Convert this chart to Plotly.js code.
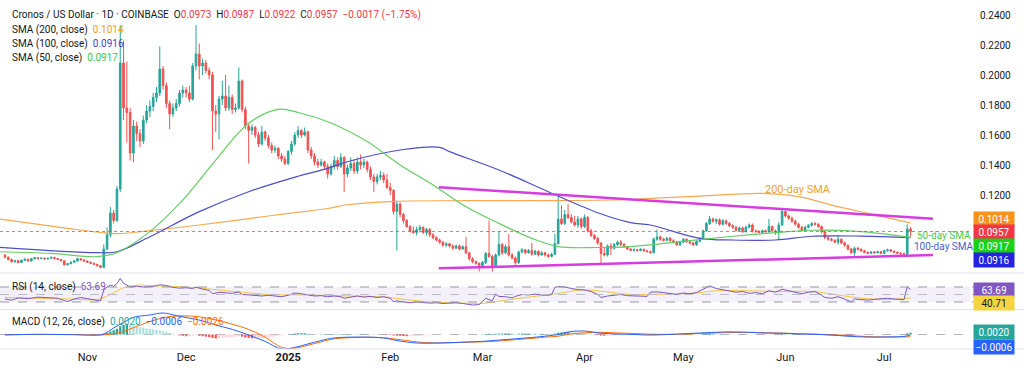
<!DOCTYPE html>
<html><head><meta charset="utf-8">
<script src="https://cdn.plot.ly/plotly-3.0.1.min.js"></script>
<style>html,body{margin:0;padding:0;background:#fff}#chart{width:1024px;height:370px}</style>
</head><body><div id="chart"></div>
<script>
// ---------- DATA ----------
const startDate = '2024-10-07';
const openArr = [0.0800,0.0785,0.0770,0.0755,0.0762,0.0750,0.0765,0.0772,0.0760,0.0775,0.0782,0.0776,0.0779,0.0774,0.0778,0.0784,0.0776,0.0770,0.0762,0.0735,0.0742,0.0752,0.0760,0.0775,0.0768,0.0760,0.0752,0.0745,0.0738,0.0728,
0.0718,0.0840,0.0935,0.1080,0.1030,0.1240,0.2080,0.1780,0.1750,0.1480,0.1660,0.1610,0.1560,0.1700,0.1760,0.1790,0.1850,0.1880,0.2040,0.1930,0.1810,0.1740,0.1780,0.1810,0.1880,0.1900,0.1880,0.1840,0.2060,0.2140,
0.2060,0.2080,0.2030,0.2000,0.1760,0.1740,0.1840,0.1860,0.1780,0.1850,0.1770,0.1780,0.1960,0.1770,0.1660,0.1630,0.1650,0.1600,0.1540,0.1620,0.1580,0.1530,0.1500,0.1510,0.1460,0.1440,0.1410,0.1490,0.1540,0.1600,
0.1630,0.1600,0.1620,0.1500,0.1460,0.1420,0.1400,0.1420,0.1390,0.1340,0.1390,0.1430,0.1390,0.1450,0.1340,0.1380,0.1410,0.1360,0.1420,0.1400,0.1420,0.1370,0.1320,0.1290,0.1320,0.1330,0.1300,0.1250,0.1230,0.1090,
0.1140,0.1070,0.1030,0.0990,0.0960,0.0950,0.0970,0.0985,0.0950,0.0970,0.0935,0.0915,0.0900,0.0885,0.0865,0.0875,0.0860,0.0845,0.0860,0.0840,0.0855,0.0815,0.0775,0.0755,0.0745,0.0730,0.0750,0.0810,0.0790,0.0730,
0.0800,0.0870,0.0815,0.0855,0.0800,0.0780,0.0750,0.0820,0.0835,0.0815,0.0830,0.0805,0.0825,0.0800,0.0815,0.0800,0.0790,0.0805,0.0875,0.1040,0.1010,0.1070,0.1050,0.1020,0.1000,0.1040,0.0990,0.1050,0.0960,0.0930,
0.0910,0.0880,0.0810,0.0800,0.0860,0.0845,0.0870,0.0885,0.0870,0.0855,0.0840,0.0830,0.0835,0.0830,0.0838,0.0828,0.0822,0.0815,0.0905,0.0920,0.0905,0.0898,0.0912,0.0895,0.0885,0.0868,0.0885,0.0905,0.0888,0.0880,
0.0868,0.0890,0.0912,0.0960,0.1010,0.1040,0.1025,0.1035,0.1005,0.1028,0.1010,0.0995,0.0985,0.0965,0.0980,0.0955,0.0985,0.1000,0.0960,0.0958,0.0950,0.0962,0.0955,0.0990,0.0960,0.0955,0.1000,0.1090,0.1060,0.1045,
0.1025,0.1005,0.0985,0.0965,0.0985,0.0998,0.1010,0.1005,0.0990,0.0955,0.0915,0.0905,0.0898,0.0885,0.0905,0.0880,0.0865,0.0840,0.0815,0.0845,0.0838,0.0828,0.0818,0.0812,0.0820,0.0815,0.0822,0.0812,0.0830,0.0835,
0.0825,0.0818,0.0812,0.0808,0.0805,0.0973];
const highArr = [0.0806,0.0790,0.0776,0.0768,0.0766,0.0770,0.0778,0.0776,0.0780,0.0788,0.0786,0.0784,0.0783,0.0783,0.0790,0.0788,0.0780,0.0774,0.0766,0.0748,0.0757,0.0765,0.0782,0.0779,0.0772,0.0764,0.0757,0.0750,0.0742,0.0733,
0.0870,0.0985,0.1120,0.1100,0.1260,0.2330,0.2230,0.2090,0.1780,0.1700,0.1690,0.1640,0.1730,0.1800,0.1830,0.1880,0.1920,0.2190,0.2060,0.1950,0.1830,0.1810,0.1840,0.1900,0.1930,0.1920,0.1930,0.2080,0.2333,0.2210,
0.2110,0.2100,0.2050,0.2020,0.1800,0.1860,0.1960,0.2000,0.1930,0.1870,0.1810,0.2050,0.1970,0.1790,0.1680,0.1670,0.1660,0.1620,0.1660,0.1630,0.1600,0.1550,0.1530,0.1520,0.1480,0.1460,0.1500,0.1560,0.1620,0.1660,
0.1640,0.1650,0.1630,0.1520,0.1480,0.1440,0.1440,0.1430,0.1410,0.1410,0.1460,0.1450,0.1480,0.1460,0.1400,0.1450,0.1440,0.1450,0.1470,0.1440,0.1430,0.1390,0.1340,0.1340,0.1360,0.1350,0.1340,0.1280,0.1240,0.1160,
0.1150,0.1080,0.1040,0.1000,0.0990,0.0990,0.1000,0.0990,0.0980,0.0980,0.0945,0.0925,0.0910,0.0895,0.0885,0.0880,0.0870,0.0870,0.0870,0.0865,0.0920,0.0820,0.0785,0.0765,0.0750,0.0760,0.0820,0.1030,0.0800,0.0810,
0.0960,0.0880,0.0870,0.0940,0.0815,0.0790,0.0830,0.0845,0.0840,0.0840,0.0880,0.0835,0.0830,0.0825,0.0820,0.0810,0.0815,0.0940,0.1200,0.1130,0.1100,0.1140,0.1070,0.1060,0.1060,0.1050,0.1070,0.1060,0.0975,0.0940,
0.0920,0.0885,0.0850,0.0870,0.0880,0.0880,0.0895,0.0900,0.0880,0.0860,0.0845,0.0845,0.0840,0.0845,0.0842,0.0835,0.0830,0.0915,0.0970,0.0930,0.0915,0.0920,0.0920,0.0905,0.0895,0.0895,0.0912,0.0910,0.0900,0.0888,
0.0900,0.0920,0.0970,0.1020,0.1060,0.1050,0.1045,0.1045,0.1040,0.1035,0.1020,0.1005,0.0995,0.0990,0.0990,0.0995,0.1010,0.1010,0.0970,0.0965,0.0970,0.0970,0.1040,0.0995,0.0970,0.1020,0.1100,0.1095,0.1070,0.1055,
0.1035,0.1015,0.0995,0.0995,0.1005,0.1018,0.1020,0.1012,0.0995,0.0960,0.0925,0.0915,0.0905,0.0935,0.0910,0.0890,0.0870,0.0848,0.0855,0.0855,0.0845,0.0835,0.0825,0.0826,0.0826,0.0828,0.0828,0.0835,0.0842,0.0840,
0.0830,0.0824,0.0818,0.0815,0.1005,0.0987];
const lowArr = [0.0780,0.0764,0.0750,0.0750,0.0744,0.0746,0.0760,0.0755,0.0756,0.0770,0.0771,0.0772,0.0769,0.0770,0.0774,0.0771,0.0765,0.0757,0.0728,0.0730,0.0738,0.0748,0.0756,0.0762,0.0755,0.0747,0.0740,0.0733,0.0722,0.0712,
0.0712,0.0830,0.0920,0.1010,0.1020,0.1220,0.1700,0.1550,0.1430,0.1420,0.1560,0.1520,0.1540,0.1680,0.1720,0.1760,0.1820,0.1860,0.1900,0.1780,0.1640,0.1720,0.1760,0.1790,0.1850,0.1850,0.1820,0.1830,0.2030,0.1970,
0.2000,0.2010,0.1970,0.1500,0.1620,0.1570,0.1800,0.1760,0.1760,0.1740,0.1750,0.1770,0.1750,0.1640,0.1410,0.1600,0.1580,0.1520,0.1530,0.1560,0.1510,0.1480,0.1480,0.1440,0.1420,0.1400,0.1400,0.1470,0.1530,0.1580,
0.1580,0.1590,0.1480,0.1440,0.1400,0.1380,0.1390,0.1370,0.1310,0.1330,0.1370,0.1370,0.1380,0.1220,0.1320,0.1360,0.1340,0.1340,0.1370,0.1380,0.1350,0.1300,0.1220,0.1270,0.1300,0.1280,0.1240,0.1200,0.1070,0.0830,
0.1050,0.1010,0.0980,0.0950,0.0940,0.0930,0.0950,0.0940,0.0930,0.0920,0.0905,0.0890,0.0875,0.0855,0.0855,0.0850,0.0835,0.0840,0.0830,0.0835,0.0805,0.0765,0.0745,0.0735,0.0690,0.0720,0.0740,0.0780,0.0690,0.0720,
0.0790,0.0800,0.0805,0.0790,0.0770,0.0735,0.0740,0.0810,0.0805,0.0810,0.0795,0.0800,0.0790,0.0795,0.0790,0.0780,0.0785,0.0800,0.0870,0.1000,0.1000,0.1040,0.1010,0.0990,0.0980,0.0975,0.0980,0.0950,0.0920,0.0900,
0.0870,0.0745,0.0790,0.0790,0.0800,0.0835,0.0860,0.0860,0.0850,0.0835,0.0825,0.0825,0.0822,0.0825,0.0822,0.0818,0.0810,0.0812,0.0895,0.0895,0.0890,0.0890,0.0888,0.0878,0.0860,0.0860,0.0878,0.0880,0.0870,0.0860,
0.0862,0.0885,0.0905,0.0955,0.1000,0.1015,0.1005,0.0995,0.0995,0.1000,0.0985,0.0975,0.0955,0.0958,0.0948,0.0950,0.0978,0.0950,0.0945,0.0945,0.0945,0.0950,0.0950,0.0955,0.0935,0.0900,0.0995,0.1050,0.1035,0.1015,
0.0995,0.0975,0.0955,0.0960,0.0978,0.0990,0.0995,0.0982,0.0945,0.0905,0.0895,0.0890,0.0878,0.0870,0.0872,0.0855,0.0830,0.0808,0.0795,0.0830,0.0820,0.0812,0.0806,0.0806,0.0808,0.0810,0.0805,0.0805,0.0822,0.0820,
0.0812,0.0806,0.0800,0.0798,0.0800,0.0922];
const closeArr = [0.0785,0.0770,0.0755,0.0762,0.0750,0.0765,0.0772,0.0760,0.0775,0.0782,0.0776,0.0779,0.0774,0.0778,0.0784,0.0776,0.0770,0.0762,0.0735,0.0742,0.0752,0.0760,0.0775,0.0768,0.0760,0.0752,0.0745,0.0738,0.0728,0.0718,
0.0840,0.0935,0.1080,0.1030,0.1240,0.2080,0.1780,0.1750,0.1480,0.1660,0.1610,0.1560,0.1700,0.1760,0.1790,0.1850,0.1880,0.2040,0.1930,0.1810,0.1740,0.1780,0.1810,0.1880,0.1900,0.1880,0.1840,0.2060,0.2140,0.2060,
0.2080,0.2030,0.2000,0.1760,0.1740,0.1840,0.1860,0.1780,0.1850,0.1770,0.1780,0.1960,0.1770,0.1660,0.1630,0.1650,0.1600,0.1540,0.1620,0.1580,0.1530,0.1500,0.1510,0.1460,0.1440,0.1410,0.1490,0.1540,0.1600,0.1630,
0.1600,0.1620,0.1500,0.1460,0.1420,0.1400,0.1420,0.1390,0.1340,0.1390,0.1430,0.1390,0.1450,0.1340,0.1380,0.1410,0.1360,0.1420,0.1400,0.1420,0.1370,0.1320,0.1290,0.1320,0.1330,0.1300,0.1250,0.1230,0.1090,0.1140,
0.1070,0.1030,0.0990,0.0960,0.0950,0.0970,0.0985,0.0950,0.0970,0.0935,0.0915,0.0900,0.0885,0.0865,0.0875,0.0860,0.0845,0.0860,0.0840,0.0855,0.0815,0.0775,0.0755,0.0745,0.0730,0.0750,0.0810,0.0790,0.0730,0.0800,
0.0870,0.0815,0.0855,0.0800,0.0780,0.0750,0.0820,0.0835,0.0815,0.0830,0.0805,0.0825,0.0800,0.0815,0.0800,0.0790,0.0805,0.0875,0.1040,0.1010,0.1070,0.1050,0.1020,0.1000,0.1040,0.0990,0.1050,0.0960,0.0930,0.0910,
0.0880,0.0810,0.0800,0.0860,0.0845,0.0870,0.0885,0.0870,0.0855,0.0840,0.0830,0.0835,0.0830,0.0838,0.0828,0.0822,0.0815,0.0905,0.0920,0.0905,0.0898,0.0912,0.0895,0.0885,0.0868,0.0885,0.0905,0.0888,0.0880,0.0868,
0.0890,0.0912,0.0960,0.1010,0.1040,0.1025,0.1035,0.1005,0.1028,0.1010,0.0995,0.0985,0.0965,0.0980,0.0955,0.0985,0.1000,0.0960,0.0958,0.0950,0.0962,0.0955,0.0990,0.0960,0.0955,0.1000,0.1090,0.1060,0.1045,0.1025,
0.1005,0.0985,0.0965,0.0985,0.0998,0.1010,0.1005,0.0990,0.0955,0.0915,0.0905,0.0898,0.0885,0.0905,0.0880,0.0865,0.0840,0.0815,0.0845,0.0838,0.0828,0.0818,0.0812,0.0820,0.0815,0.0822,0.0812,0.0830,0.0835,0.0825,
0.0818,0.0812,0.0808,0.0805,0.0973,0.0957];

// Moving averages (sampled along the drawn lines)
const sma200Dates = ['2024-10-05','2024-10-15','2024-10-26','2024-11-05','2024-11-10','2024-11-20','2024-12-05','2024-12-26','2025-01-04','2025-01-13','2025-01-19','2025-02-02','2025-02-24','2025-03-24','2025-04-15','2025-04-21','2025-05-06','2025-05-25','2025-06-05','2025-06-15','2025-06-26','2025-07-09'];
const sma200Vals  = [0.1040,0.1011,0.0978,0.0950,0.0942,0.0962,0.1000,0.1060,0.1085,0.1110,0.1135,0.1158,0.1162,0.1163,0.1170,0.1178,0.1193,0.1211,0.1189,0.1133,0.1078,0.1014];
const sma100Dates = ['2024-10-05','2024-11-04','2024-11-10','2024-11-20','2024-12-05','2024-12-20','2025-01-04','2025-01-13','2025-01-19','2025-02-04','2025-02-16','2025-02-19','2025-03-06','2025-03-21','2025-04-05','2025-04-15','2025-04-21','2025-05-06','2025-05-16','2025-05-29','2025-06-09','2025-06-24','2025-07-09'];
const sma100Vals  = [0.0852,0.0816,0.0822,0.0922,0.1089,0.1222,0.1325,0.1378,0.1422,0.1500,0.1518,0.1489,0.1367,0.1222,0.1082,0.1016,0.1000,0.0911,0.0900,0.0900,0.0925,0.0926,0.0916];
const sma50Dates  = ['2024-10-05','2024-10-21','2024-11-04','2024-11-10','2024-11-20','2024-11-30','2024-12-10','2024-12-20','2024-12-29','2025-01-04','2025-01-14','2025-01-25','2025-02-04','2025-02-14','2025-02-24','2025-03-06','2025-03-16','2025-03-24','2025-04-05','2025-04-15','2025-04-30','2025-05-16','2025-05-29','2025-06-09','2025-06-24','2025-07-09'];
const sma50Vals   = [0.0822,0.0811,0.0789,0.0816,0.0956,0.1167,0.1433,0.1678,0.1771,0.1750,0.1680,0.1556,0.1400,0.1267,0.1122,0.1011,0.0911,0.0856,0.0850,0.0856,0.0889,0.0925,0.0949,0.0965,0.0956,0.0917];

// Drawn trendlines (triangle)
const trendDates = ['2025-02-15 18:00','2025-07-15 20:00'];
const upperTrend = [0.1252,0.1042];
const lowerTrend = [0.0711,0.0800];

// RSI (14) and its moving average, sampled by candle index
const rsiIdx = [0,2,4,7,10,13,16,18,19,21,23,25,27,29,30,31,32,33,34,35,36,37,38,40,42,44,46,47,49,51,53,55,57,58,60,62,63,65,67,69,71,72,74,76,78,80,82,84,86,88,90,92,94,96,98,100,102,103,105,107,109,111,113,115,117,118,119,121,123,125,127,129,131,133,135,137,139,140,142,144,146,147,148,149,150,152,154,155,157,159,161,163,165,166,167,168,170,172,174,176,178,180,181,183,185,187,189,191,193,195,196,198,200,202,204,206,208,210,212,214,216,218,220,222,224,226,228,230,232,234,236,238,240,242,244,246,248,249,251,253,255,256,257,258,260,262,264,266,268,270,272,273,274,275];
const rsiVal = [38,35,41,39,43,42,40,34,31,38,42,39,36,33,62,70,75,72,79,93,80,76,70,72,70,71,73,76,74,69,67,68,66,70,64,61,52,56,54,53,57,50,49,47,46,48,47,44,48,54,52,49,46,47,44,46,44,40,44,46,43,45,42,44,40,31,33,30,28,30,29,27,28,26,27,28,26,24,22,23,40,36,34,51,45,44,41,45,50,49,51,49,48,50,69,71,70,66,63,62,58,50,42,46,49,50,47,46,47,45,56,57,55,53,50,54,52,55,64,73,66,62,60,56,58,53,55,52,60,56,64,60,56,52,56,58,48,42,40,44,38,33,30,38,36,35,37,38,40,38,37,36,70,63.69];
const rsiMaIdx = [0,10,20,28,32,36,40,45,50,58,65,72,80,90,100,110,116,122,130,140,146,152,160,168,175,182,190,200,210,216,225,235,245,252,260,268,275];
const rsiMaVal = [42,40,38,37,50,68,75,73,72,68,62,56,50,49,47,45,43,36,30,27,27,35,44,53,62,58,50,51,54,60,60,58,58,50,40,37,40.71];

// MACD (12, 26): macd line, signal line (sampled) and daily histogram
const macdIdx = [0,10,20,28,30,33,36,39,44,48,52,56,60,64,69,74,79,84,88,92,96,100,108,115,119,125,130,135,140,145,150,155,160,165,168,171,176,181,186,191,196,204,211,219,226,231,236,241,246,251,256,262,268,273,275];
const macdVal = [-0.0004,0.0002,-0.0002,-0.0006,0.0005,0.0076,0.0140,0.0200,0.0227,0.0250,0.0220,0.0190,0.0160,0.0110,0.0060,-0.0006,-0.0080,-0.0169,-0.0150,-0.0110,-0.0070,-0.0040,-0.0030,-0.0040,-0.0070,-0.0099,-0.0100,-0.0095,-0.0088,-0.0080,-0.0065,-0.0050,-0.0035,-0.0015,0.0000,0.0030,0.0040,0.0015,0.0006,0.0000,-0.0006,0.0005,0.0017,0.0030,0.0025,0.0017,0.0015,0.0006,0.0002,-0.0006,-0.0020,-0.0030,-0.0028,-0.0022,-0.0006];
const signalIdx = [0,10,20,30,33,36,39,44,48,52,56,60,64,69,74,79,84,88,92,96,100,108,115,119,125,130,135,140,145,150,155,160,165,168,171,176,181,186,191,196,204,211,219,226,231,236,241,246,251,256,262,268,273,275];
const signalVal = [-0.0004,0.0001,0.0000,-0.0004,0.0010,0.0035,0.0080,0.0150,0.0195,0.0215,0.0215,0.0200,0.0170,0.0120,0.0060,-0.0030,-0.0150,-0.0160,-0.0125,-0.0085,-0.0050,-0.0033,-0.0038,-0.0055,-0.0085,-0.0098,-0.0097,-0.0090,-0.0085,-0.0076,-0.0060,-0.0045,-0.0028,-0.0020,0.0002,0.0020,0.0025,0.0018,0.0012,0.0004,0.0002,0.0012,0.0022,0.0025,0.0020,0.0016,0.0010,0.0004,-0.0002,-0.0012,-0.0024,-0.0030,-0.0028,-0.0026];
const histVal = [0.0001,-0.0001,-0.0002,-0.0001,-0.0002,0.0000,0.0001,0.0000,0.0001,0.0002,0.0001,0.0001,0.0000,0.0001,0.0001,0.0000,-0.0001,-0.0001,-0.0003,-0.0003,-0.0002,-0.0001,0.0001,0.0001,0.0000,-0.0001,-0.0001,-0.0002,-0.0002,-0.0003,
0.0010,0.0020,0.0035,0.0050,0.0065,0.0095,0.0110,0.0120,0.0110,0.0100,0.0090,0.0085,0.0080,0.0070,0.0065,0.0060,0.0055,0.0050,0.0040,0.0030,0.0020,0.0010,0.0000,-0.0010,-0.0015,-0.0020,-0.0020,-0.0015,-0.0010,-0.0015,
-0.0020,-0.0025,-0.0030,-0.0040,-0.0045,-0.0040,-0.0035,-0.0035,-0.0030,-0.0030,-0.0025,-0.0020,-0.0025,-0.0035,-0.0040,-0.0045,-0.0045,-0.0045,-0.0040,-0.0035,-0.0030,-0.0025,-0.0020,-0.0015,-0.0010,-0.0005,0.0000,0.0005,0.0010,0.0015,
0.0015,0.0015,0.0010,0.0008,0.0006,0.0005,0.0005,0.0004,0.0002,0.0003,0.0004,0.0004,0.0005,0.0002,0.0002,0.0003,0.0002,0.0003,0.0003,0.0003,0.0002,0.0000,-0.0002,-0.0002,-0.0001,-0.0002,-0.0004,-0.0006,-0.0012,-0.0014,
-0.0016,-0.0018,-0.0019,-0.0019,-0.0018,-0.0016,-0.0014,-0.0012,-0.0010,-0.0008,-0.0006,-0.0005,-0.0004,-0.0003,-0.0002,-0.0001,0.0000,0.0001,0.0001,0.0002,0.0001,0.0000,0.0000,0.0001,0.0001,0.0003,0.0006,0.0008,0.0006,0.0008,
0.0011,0.0011,0.0012,0.0012,0.0010,0.0008,0.0009,0.0010,0.0010,0.0010,0.0009,0.0009,0.0008,0.0008,0.0007,0.0006,0.0006,0.0010,0.0020,0.0024,0.0026,0.0027,0.0025,0.0023,0.0022,0.0018,0.0016,0.0010,0.0005,0.0000,
-0.0005,-0.0012,-0.0015,-0.0014,-0.0013,-0.0011,-0.0009,-0.0008,-0.0007,-0.0007,-0.0007,-0.0006,-0.0005,-0.0004,-0.0004,-0.0004,-0.0004,0.0000,0.0003,0.0004,0.0004,0.0004,0.0003,0.0002,0.0001,0.0001,0.0002,0.0001,0.0001,0.0000,
0.0001,0.0002,0.0004,0.0007,0.0009,0.0009,0.0008,0.0007,0.0006,0.0005,0.0004,0.0002,0.0000,0.0000,-0.0001,0.0000,0.0001,0.0000,-0.0001,-0.0002,-0.0002,-0.0002,0.0000,-0.0001,-0.0002,0.0000,0.0004,0.0005,0.0004,0.0003,
0.0001,0.0000,-0.0002,-0.0002,-0.0002,-0.0001,-0.0001,-0.0002,-0.0004,-0.0007,-0.0009,-0.0010,-0.0010,-0.0009,-0.0009,-0.0010,-0.0011,-0.0012,-0.0010,-0.0009,-0.0008,-0.0007,-0.0005,-0.0004,-0.0003,-0.0002,-0.0001,0.0000,0.0001,0.0001,
0.0001,0.0002,0.0002,0.0002,0.0014,0.0020];

// Axis ticks / labels
const priceTicks = [0.12,0.14,0.16,0.18,0.20,0.22,0.24];
const monthTicks = ['2024-11-01','2024-12-01','2025-01-01','2025-02-01','2025-03-01','2025-04-01','2025-05-01','2025-06-01','2025-07-01'];
const monthLabels = ['Nov','Dec','<b>2025</b>','Feb','Mar','Apr','May','Jun','Jul'];
const xRange = ['2024-10-05 11:30','2025-07-27 01:30'];
const lastValues = {sma200:0.1014, sma100:0.0916, sma50:0.0917, rsi:63.69, rsiMa:40.71, hist:0.0020, macd:-0.0006, signal:-0.0026};
const ohlcLegend = {o:'0.0973', h:'0.0987', l:'0.0922', c:'0.0957', chg:'−0.0017 (−1.75%)'};

// ---------- BUILD ----------
const dates = closeArr.map((_, i) => {
  const d = new Date(startDate + 'T00:00:00Z'); d.setUTCDate(d.getUTCDate() + i);
  return d.toISOString().slice(0, 10);
});
const idxToDate = a => a.map(i => dates[i]);
const histColors = histVal.map((v, i) => {
  const p = i > 0 ? histVal[i - 1] : 0;
  if (v >= 0) return v >= p ? '#26a69a' : '#b2dfdb';
  return v < p ? '#ff5252' : '#ffcdd2';
});

const C = {up:'#26a69a', down:'#ef5350', s200:'#f6a94e', s100:'#4b4fc8', s50:'#66cc66', pink:'#d63ce0',
  rsi:'#7e57c2', rsiMa:'#f2c744', macd:'#2962ff', sig:'#ff6d00', text:'#131722', red:'#f23645'};

const traces = [
  {type:'scatter', mode:'lines', x:sma200Dates, y:sma200Vals, line:{color:C.s200, width:1.2, shape:'spline'}, hoverinfo:'skip'},
  {type:'scatter', mode:'lines', x:sma100Dates, y:sma100Vals, line:{color:C.s100, width:1.2, shape:'spline'}, hoverinfo:'skip'},
  {type:'scatter', mode:'lines', x:sma50Dates, y:sma50Vals, line:{color:C.s50, width:1.2, shape:'spline'}, hoverinfo:'skip'},
  {type:'candlestick', x:dates, open:openArr, high:highArr, low:lowArr, close:closeArr,
   increasing:{line:{color:C.up, width:1}, fillcolor:C.up},
   decreasing:{line:{color:C.down, width:1}, fillcolor:C.down}, whiskerwidth:0, hoverinfo:'skip'},
  {type:'scatter', mode:'lines', x:trendDates, y:upperTrend, line:{color:C.pink, width:2.5}, hoverinfo:'skip'},
  {type:'scatter', mode:'lines', x:trendDates, y:lowerTrend, line:{color:C.pink, width:2.5}, hoverinfo:'skip'},
  // RSI pane
  {type:'scatter', mode:'lines', x:idxToDate(rsiMaIdx), y:rsiMaVal, xaxis:'x', yaxis:'y2', line:{color:C.rsiMa, width:1, shape:'spline'}, hoverinfo:'skip'},
  {type:'scatter', mode:'lines', x:idxToDate(rsiIdx), y:rsiVal, xaxis:'x', yaxis:'y2', line:{color:C.rsi, width:1}, hoverinfo:'skip'},
  // MACD pane
  {type:'bar', x:dates, y:histVal, xaxis:'x', yaxis:'y3', marker:{color:histColors}, hoverinfo:'skip'},
  {type:'scatter', mode:'lines', x:idxToDate(signalIdx), y:signalVal, xaxis:'x', yaxis:'y3', line:{color:C.sig, width:1, shape:'spline'}, hoverinfo:'skip'},
  {type:'scatter', mode:'lines', x:idxToDate(macdIdx), y:macdVal, xaxis:'x', yaxis:'y3', line:{color:C.macd, width:1, shape:'spline'}, hoverinfo:'skip'}
];

// pixel helpers for text placement (plot area: 970 x 349)
const PW = 970, PH = 349;
const px = x => x / PW, py = y => (PH - y) / PH;
const lastClose = closeArr[closeArr.length - 1];
const sp = (c, t) => `<span style="color:${c}">${t}</span>`;

const annotations = [
  {x:px(10), y:py(15), text:`Cronos / US Dollar · 1D · COINBASE  O${sp(C.red,ohlcLegend.o)}  H${sp(C.red,ohlcLegend.h)}  L${sp(C.red,ohlcLegend.l)}  C${sp(C.red,ohlcLegend.c)}  ${sp(C.red,ohlcLegend.chg)}`},
  {x:px(10), y:py(30), text:`SMA (200, close)  ${sp('#f0a020', lastValues.sma200.toFixed(4))}`},
  {x:px(10), y:py(44), text:`SMA (100, close)  ${sp('#3f3fc8', lastValues.sma100.toFixed(4))}`},
  {x:px(10), y:py(58), text:`SMA (50, close)  ${sp('#3cc43c', lastValues.sma50.toFixed(4))}`},
  {x:px(10), y:py(287), text:`RSI (14, close)  ${sp(C.rsi, lastValues.rsi.toFixed(2))}`},
  {x:px(10), y:py(322), text:`MACD (12, 26, close)  ${sp('#26a69a', lastValues.hist.toFixed(4))}  ${sp(C.macd, '−' + Math.abs(lastValues.macd).toFixed(4))}  ${sp(C.sig, '−' + Math.abs(lastValues.signal).toFixed(4))}`},
  {x:px(763), y:py(189), text:'200-day SMA', font:{size:11, color:'#f0a030'}},
  {x:px(915), y:py(235), text:'50-day SMA', font:{size:10, color:'#4cc94c'}},
  {x:px(912), y:py(247), text:'100-day SMA', font:{size:10, color:'#4a5fc8'}}
].map(a => Object.assign({xref:'paper', yref:'paper', xanchor:'left', yanchor:'middle', showarrow:false, font:{size:10, color:C.text}}, a));

const box = (val, txt, yref, bg, shift, fc) => ({xref:'paper', x:px(973), xanchor:'left', yref:yref, y:val, yanchor:'middle', yshift:shift,
  text:txt, showarrow:false, bgcolor:bg, width:38, height:12, borderpad:1, align:'center', font:{size:10, color:fc || '#ffffff'}});
annotations.push(
  box(lastValues.sma200, lastValues.sma200.toFixed(4), 'y', '#f7931a', 4),
  box(lastClose, lastClose.toFixed(4), 'y', '#f23645', -1),
  box(lastValues.sma50, lastValues.sma50.toFixed(4), 'y', '#19d119', -9),
  box(lastValues.sma100, lastValues.sma100.toFixed(4), 'y', '#2424e0', -22),
  box(lastValues.rsi, lastValues.rsi.toFixed(2), 'y2', '#7e57c2', -1),
  box(lastValues.rsiMa, lastValues.rsiMa.toFixed(2), 'y2', '#f5d442', -5, '#131722'),
  box(lastValues.hist, lastValues.hist.toFixed(4), 'y3', '#26a69a', 1),
  box(lastValues.macd, '−' + Math.abs(lastValues.macd).toFixed(4), 'y3', '#2962ff', -12)
);

const shapes = [
  {type:'line', xref:'paper', x0:0, x1:1, yref:'y', y0:lastClose, y1:lastClose, line:{color:'rgba(242,54,69,0.75)', width:1, dash:'dot'}},
  {type:'rect', xref:'paper', x0:0, x1:1, yref:'y2', y0:30, y1:70, fillcolor:'rgba(126,87,194,0.09)', line:{width:0}, layer:'below'},
  {type:'line', xref:'paper', x0:0, x1:1.005, yref:'y2', y0:70, y1:70, line:{color:'#9598a1', width:1, dash:'dash'}},
  {type:'line', xref:'paper', x0:0, x1:1.005, yref:'y2', y0:50, y1:50, line:{color:'#b8bbc2', width:1, dash:'dash'}},
  {type:'line', xref:'paper', x0:0, x1:1.005, yref:'y2', y0:30, y1:30, line:{color:'#9598a1', width:1, dash:'dash'}},
  {type:'line', xref:'paper', x0:0, x1:1, yref:'y3', y0:0, y1:0, line:{color:'#b2b5be', width:1, dash:'dash'}, layer:'below'},
  {type:'line', xref:'paper', x0:0, x1:1024/PW, yref:'paper', y0:py(273), y1:py(273), line:{color:'#e0e3eb', width:1}},
  {type:'line', xref:'paper', x0:0, x1:1024/PW, yref:'paper', y0:py(309.5), y1:py(309.5), line:{color:'#e0e3eb', width:1}},
  {type:'line', xref:'paper', x0:0, x1:1024/PW, yref:'paper', y0:py(349), y1:py(349), line:{color:'#e0e3eb', width:1}}
];

const layout = {
  width:1024, height:370, margin:{l:0, r:54, t:0, b:21},
  paper_bgcolor:'#ffffff', plot_bgcolor:'#ffffff', showlegend:false, bargap:0.3,
  font:{family:'Roboto, "Open Sans", sans-serif', size:10, color:C.text},
  xaxis:{type:'date', range:xRange, anchor:'y3', showgrid:false, zeroline:false, showline:false, ticks:'',
    tickvals:monthTicks, ticktext:monthLabels, tickfont:{size:11, color:C.text}, rangeslider:{visible:false}, fixedrange:true},
  yaxis:{domain:[0.2206, 1], range:[0.068667, 0.25], side:'right', anchor:'x', tickvals:priceTicks, tickformat:'.4f',
    showgrid:false, zeroline:false, showline:false, ticks:'', ticklabelstandoff:9, tickfont:{size:10, color:C.text}, fixedrange:true},
  yaxis2:{domain:[0.1146, 0.2149], range:[11.33, 104.67], anchor:'x', showticklabels:false, showgrid:false, zeroline:false, fixedrange:true},
  yaxis3:{domain:[0, 0.1117], range:[-0.01686, 0.02849], anchor:'x', showticklabels:false, showgrid:false, zeroline:false, fixedrange:true},
  annotations, shapes
};

Plotly.newPlot('chart', traces, layout, {displayModeBar:false, staticPlot:true});
</script></body></html>
